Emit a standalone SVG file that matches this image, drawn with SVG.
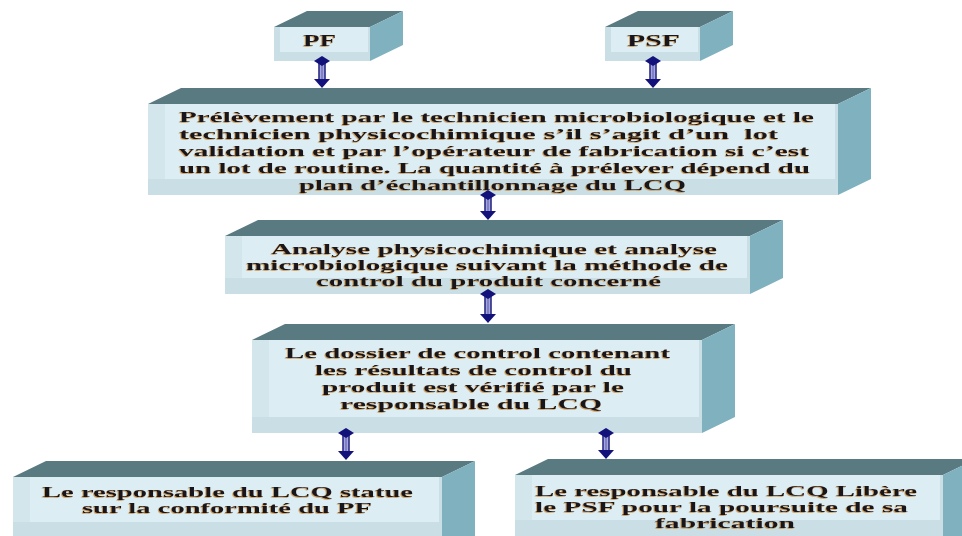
<svg xmlns="http://www.w3.org/2000/svg" width="962" height="536" viewBox="0 0 962 536">
<defs>
<style>
.top{fill:#587a80}
.side{fill:#7fb1be}
.front{fill:#d2e6ec}
.panel{fill:#dcedf3}
.bot{fill:#c9dfe5}
.t{font-family:"Liberation Serif","Times New Roman",serif;font-weight:bold;font-size:15px;fill:#14121e;filter:url(#ts)}
.so{stroke:#1c1c78;stroke-width:7.5;fill:none}
.si{stroke:#a6a6de;stroke-width:4.6;fill:none}
.sm{stroke:#5a5ab2;stroke-width:1;fill:none}
.cap{fill:#12127a}
</style>
<filter id="ts" x="-5%" y="-30%" width="110%" height="160%">
<feDropShadow dx="-0.8" dy="0.8" stdDeviation="0.4" flood-color="#c9862e" flood-opacity="0.85"/>
</filter>
</defs>
<rect width="962" height="536" fill="#ffffff"/>

<g id="pf">
<polygon class="top" points="274,27 307,11 403,11 370,27"/>
<polygon class="side" points="370,27 403,11 403,45 370,61"/>
<rect class="bot" x="274" y="27" width="96" height="34"/>
<rect class="panel" x="280" y="27" width="88" height="25"/>
<text class="t" x="303" y="46" textLength="33" lengthAdjust="spacingAndGlyphs" style="font-size:16px">PF</text>
</g>

<g id="psf">
<polygon class="top" points="605,27 638,11 733,11 700,27"/>
<polygon class="side" points="700,27 733,11 733,45 700,61"/>
<rect class="bot" x="605" y="27" width="95" height="34"/>
<rect class="panel" x="611" y="27" width="87" height="25"/>
<text class="t" x="627" y="46" textLength="53" lengthAdjust="spacingAndGlyphs" style="font-size:16px">PSF</text>
</g>

<g id="prelevement">
<polygon class="top" points="148,104 181,88 871,88 838,104"/>
<polygon class="side" points="838,104 871,88 871,179 838,195"/>
<rect class="bot" x="148" y="104" width="690" height="91"/>
<rect class="front" x="148" y="104" width="33" height="75"/>
<rect class="panel" x="165" y="104" width="670" height="75"/>
<text class="t" x="179" y="122" textLength="635" lengthAdjust="spacingAndGlyphs">Prélèvement par le technicien microbiologique et le</text>
<text class="t" x="179" y="139" textLength="599" lengthAdjust="spacingAndGlyphs" style="white-space:pre">technicien physicochimique s’il s’agit d’un  lot</text>
<text class="t" x="179" y="156" textLength="630" lengthAdjust="spacingAndGlyphs">validation et par l’opérateur de fabrication si c’est</text>
<text class="t" x="179" y="173" textLength="631" lengthAdjust="spacingAndGlyphs">un lot de routine. La quantité à prélever dépend du</text>
<text class="t" x="299" y="190" textLength="387" lengthAdjust="spacingAndGlyphs">plan d’échantillonnage du LCQ</text>
</g>

<g id="analyse">
<polygon class="top" points="225,236 258,220 783,220 750,236"/>
<polygon class="side" points="750,236 783,220 783,278 750,294"/>
<rect class="bot" x="225" y="236" width="525" height="58"/>
<rect class="front" x="225" y="236" width="33" height="42"/>
<rect class="panel" x="242" y="236" width="505" height="42"/>
<text class="t" x="271" y="254" textLength="446" lengthAdjust="spacingAndGlyphs">Analyse physicochimique et analyse</text>
<text class="t" x="246" y="270" textLength="482" lengthAdjust="spacingAndGlyphs">microbiologique suivant la méthode de</text>
<text class="t" x="316" y="286" textLength="345" lengthAdjust="spacingAndGlyphs">control du produit concerné</text>
</g>

<g id="dossier">
<polygon class="top" points="252,340 285,324 735,324 702,340"/>
<polygon class="side" points="702,340 735,324 735,417 702,433"/>
<rect class="bot" x="252" y="340" width="450" height="93"/>
<rect class="front" x="252" y="340" width="33" height="77"/>
<rect class="panel" x="269" y="340" width="430" height="77"/>
<text class="t" x="285" y="358" textLength="385" lengthAdjust="spacingAndGlyphs">Le dossier de control contenant</text>
<text class="t" x="315" y="375" textLength="317" lengthAdjust="spacingAndGlyphs">les résultats de control du</text>
<text class="t" x="322" y="392" textLength="302" lengthAdjust="spacingAndGlyphs">produit est vérifié par le</text>
<text class="t" x="340" y="409" textLength="262" lengthAdjust="spacingAndGlyphs">responsable du LCQ</text>
</g>

<g id="statue">
<polygon class="top" points="13,477 46,461 475,461 442,477"/>
<polygon class="side" points="442,477 475,461 475,536 442,552"/>
<rect class="bot" x="13" y="477" width="429" height="70"/>
<rect class="front" x="13" y="477" width="33" height="45"/>
<rect class="panel" x="30" y="477" width="409" height="45"/>
<text class="t" x="42" y="497" textLength="371" lengthAdjust="spacingAndGlyphs">Le responsable du LCQ statue</text>
<text class="t" x="82" y="513" textLength="290" lengthAdjust="spacingAndGlyphs">sur la conformité du PF</text>
</g>

<g id="libere">
<polygon class="top" points="515,475 548,459 976,459 943,475"/>
<polygon class="side" points="943,475 976,459 976,536 943,552"/>
<rect class="bot" x="515" y="475" width="428" height="70"/>
<rect class="front" x="515" y="475" width="33" height="45"/>
<rect class="panel" x="532" y="475" width="408" height="45"/>
<text class="t" x="535" y="496" textLength="382" lengthAdjust="spacingAndGlyphs">Le responsable du LCQ Libère</text>
<text class="t" x="535" y="512" textLength="373" lengthAdjust="spacingAndGlyphs">le PSF pour la poursuite de sa</text>
<text class="t" x="655" y="528" textLength="140" lengthAdjust="spacingAndGlyphs">fabrication</text>
</g>

<g id="connectors">
<g>
<path class="so" d="M322,63V80"/><path class="si" d="M322,63V80"/><path class="sm" d="M322,63V80"/>
<polygon class="cap" points="322,56 330,61 322,66 314,61"/><polygon class="cap" points="314,79 330,79 322,88"/>
</g>
<g>
<path class="so" d="M653,63V80"/><path class="si" d="M653,63V80"/><path class="sm" d="M653,63V80"/>
<polygon class="cap" points="653,56 661,61 653,66 645,61"/><polygon class="cap" points="645,79 661,79 653,88"/>
</g>
<g>
<path class="so" d="M488,197V212"/><path class="si" d="M488,197V212"/><path class="sm" d="M488,197V212"/>
<polygon class="cap" points="488,190 496,195 488,200 480,195"/><polygon class="cap" points="480,211 496,211 488,220"/>
</g>
<g>
<path class="so" d="M488,296V315"/><path class="si" d="M488,296V315"/><path class="sm" d="M488,296V315"/>
<polygon class="cap" points="488,289 496,294 488,299 480,294"/><polygon class="cap" points="480,314 496,314 488,323"/>
</g>
<g>
<path class="so" d="M346,435V452"/><path class="si" d="M346,435V452"/><path class="sm" d="M346,435V452"/>
<polygon class="cap" points="346,428 354,433 346,438 338,433"/><polygon class="cap" points="338,451 354,451 346,460"/>
</g>
<g>
<path class="so" d="M606,435V451"/><path class="si" d="M606,435V451"/><path class="sm" d="M606,435V451"/>
<polygon class="cap" points="606,428 614,433 606,438 598,433"/><polygon class="cap" points="598,450 614,450 606,459"/>
</g>
</g>
</svg>
